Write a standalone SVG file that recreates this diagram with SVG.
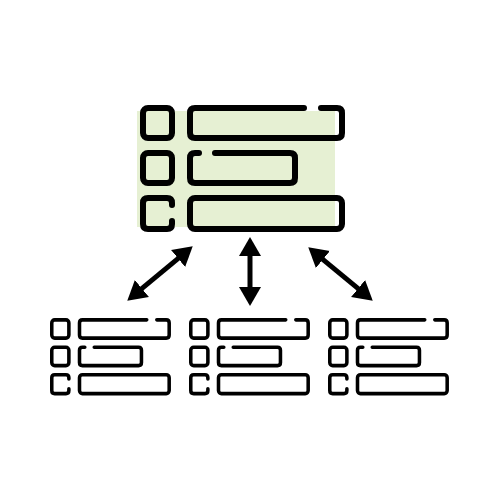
<svg xmlns="http://www.w3.org/2000/svg" xmlns:xlink="http://www.w3.org/1999/xlink" width="500" height="500" viewBox="0 0 500 500">
  <style>
    .ic { fill: none; stroke: #000; stroke-width: 6; stroke-linecap: round; stroke-linejoin: round; }
    .conn { stroke: #000; stroke-width: 5; fill: none; }
  </style>
  <defs>
    <marker id="ah" markerUnits="userSpaceOnUse" markerWidth="20" markerHeight="24" viewBox="0 0 20 24" refX="10" refY="12" orient="auto-start-reverse">
      <path d="M0,1 L19,12 L0,23 Z" fill="#000"/>
    </marker>
    <g id="icon" class="ic">
      <rect x="3" y="3" width="29" height="30" rx="5"/>
      <rect x="3" y="48" width="29" height="30" rx="5"/>
      <path d="M32,100 L32,98 Q32,93 27,93 L8,93 Q3,93 3,98 L3,119 Q3,124 8,124 L27,124 Q32,124 32,119 L32,116"/>
      <path d="M164,3 L55,3 Q50,3 50,8 L50,28 Q50,33 55,33 L197,33 Q202,33 202,28 L202,8 Q202,3 197,3 L181,3"/>
      <path d="M59,48 L55,48 Q50,48 50,53 L50,73 Q50,78 55,78 L150,78 Q155,78 155,73 L155,53 Q155,48 150,48 L75,48"/>
      <rect x="50" y="93" width="152" height="31" rx="5"/>
    </g>
  </defs>
  <rect width="500" height="500" fill="#fff"/>
  <g id="main-node">
    <rect x="137" y="111" width="198" height="116" fill="#e6f0d3"/>
    <use xlink:href="#icon" href="#icon" transform="translate(140,105)"/>
  </g>
  <g id="node-1">
    <use xlink:href="#icon" href="#icon" transform="translate(50,318) scale(0.59,0.61)"/>
  </g>
  <g id="node-2">
    <use xlink:href="#icon" href="#icon" transform="translate(189,318) scale(0.59,0.61)"/>
  </g>
  <g id="node-3">
    <use xlink:href="#icon" href="#icon" transform="translate(328,318) scale(0.59,0.61)"/>
  </g>
  <g id="connectors">
    <line class="conn" x1="134.2" y1="294.9" x2="185.8" y2="252.1" marker-start="url(#ah)" marker-end="url(#ah)"/>
    <line class="conn" x1="250" y1="246" x2="250" y2="297" marker-start="url(#ah)" marker-end="url(#ah)"/>
    <line class="conn" x1="315.2" y1="253.1" x2="365.8" y2="294.9" marker-start="url(#ah)" marker-end="url(#ah)"/>
  </g>
</svg>
